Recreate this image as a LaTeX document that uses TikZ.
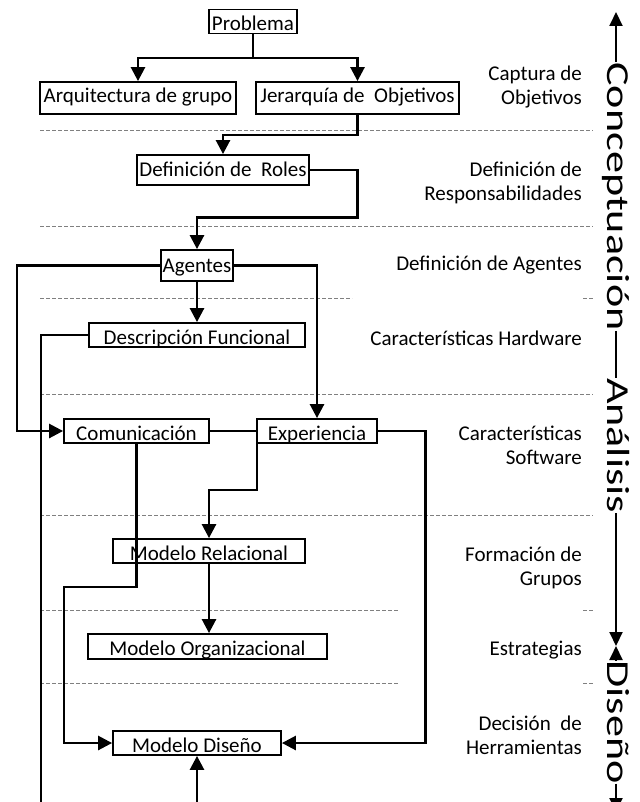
\documentclass[tikz,border=0pt]{standalone}
\usepackage{fontspec}
\setmainfont{Carlito}
\usetikzlibrary{arrows.meta}
\begin{document}
\begin{tikzpicture}[x=1pt,y=-1pt,
  conn/.style={line width=2.6pt},
  arr/.style={conn,-{Triangle[length=14pt,width=14pt]}},
  axis/.style={line width=2pt},
  axarr/.style={axis,-{Triangle[length=14pt,width=13pt]}},
  sep/.style={gray,line width=1pt,dash pattern=on 4pt off 2pt},
  txt/.style={font=\fontsize{21}{24}\selectfont},
  bx/.style={txt,draw,line width=1.8pt,inner sep=0pt},
  b5/.style={bx,text height=17pt,text depth=7pt},
  b7/.style={bx,text height=19pt,text depth=5pt},
  b9/.style={bx,text height=21pt,text depth=3pt},
  lab/.style={txt,anchor=east,align=right,inner sep=0pt},
  axl/.style={font=\fontsize{32}{34}\selectfont,rotate=-90,inner sep=0pt,text height=22pt,text depth=4pt}
]
\useasboundingbox (0,0) rectangle (639,802);
\clip (0,0) rectangle (639,802);

% separators
\draw[sep] (40,131) -- (593,131);
\draw[sep] (40,227) -- (593,227);
\draw[sep] (40,298) -- (352,298);
\draw[sep] (583,298) -- (593,298);
\draw[sep] (40,394) -- (593,394);
\draw[sep] (40,515) -- (593,515);
\draw[sep] (40,610) -- (398,610);
\draw[sep] (583,610) -- (593,610);
\draw[sep] (40,683) -- (398,683);
\draw[sep] (583,683) -- (593,683);

% boxes
\node[b9,minimum width=88pt,minimum height=23pt] (prob) at (253,21.5) {Problema};
\node[b5,minimum width=196pt,minimum height=32pt] (arq) at (138,98) {Arquitectura de grupo};
\node[b5,minimum width=203pt,minimum height=32pt] (jer) at (357.5,98) {Jerarquía de\ \ Objetivos};
\node[b7,minimum width=172pt,minimum height=30pt] (roles) at (223,170) {Definición de\ \ Roles};
\node[b7,minimum width=72pt,minimum height=31pt] (ag) at (197,265.5) {Agentes};
\node[b9,minimum width=216pt,minimum height=24pt] (desc) at (197,335) {Descripción Funcional};
\node[b9,minimum width=145pt,minimum height=24pt] (com) at (136.5,431) {Comunicación};
\node[b9,minimum width=120pt,minimum height=24pt] (exp) at (317,431) {Experiencia};
\node[b9,minimum width=192pt,minimum height=24pt] (rel) at (209,551) {Modelo Relacional};
\node[b9,minimum width=239pt,minimum height=25pt] (org) at (207.5,646.5) {Modelo Organizacional};
\node[b9,minimum width=168pt,minimum height=24pt] (dis) at (197,743) {Modelo Diseño};

% right labels
\node[lab] (l1) at (582,87) {Captura de\\Objetivos};
\node[lab] (l2) at (582,183) {Definición de\\Responsabilidades};
\node[lab] (l3) at (582,265) {Definición de Agentes};
\node[lab] (l4) at (582,338) {Características Hardware};
\node[lab] (l5) at (582,445) {Características\\Software};
\node[lab] (l6) at (582,568) {Formación de\\Grupos};
\node[lab] (l7) at (582,650) {Estrategias};
\node[lab] (l8) at (582,735) {Decisión\ \ de\\Herramientas};

% connectors
\coordinate (p1) at (253,58);
\draw[arr] (prob.south) -- (p1) -| (arq.north);
\draw[arr] (p1) -| (jer.north);
\draw[arr] (jer.south) -- ++(0,20) -| (roles.north);
\coordinate (c2) at (357.5,217.5);
\draw[arr] (roles.east) -| (c2) -| (ag.north);
\coordinate (c3) at (17,431);
\draw[arr] (ag.west) -| (c3) -- (com.west);
\draw[arr] (ag.east) -| (exp.north);
\draw[arr] (ag.south) -- (desc.north);
\coordinate (bl) at (41,803);
\coordinate (bm) at (197,803);
\draw[arr] (desc.west) -| (bl) -- (bm) -- (dis.south);
\draw[conn] (com.east) -- (exp.west);
\coordinate (c5) at (425.5,743);
\draw[arr] (exp.east) -| (c5) -- (dis.east);
\coordinate (c6) at (257,490);
\draw[arr] (c6 |- exp.south) -- (c6) -| (rel.north);
\coordinate (c7) at (136.5,587);
\coordinate (c8) at (64,743);
\draw[arr] (com.south) -- (c7) -| (c8) -- (dis.west);
\draw[arr] (rel.south) -- (rel.south |- org.north);

% phase axis
\node[axl] (conc) at (616,196.5) {\scalebox{1.38}[1]{Conceptuación}};
\node[axl] (ana) at (616,445.5) {\scalebox{1.38}[1]{Análisis}};
\node[axl] (dsn) at (616,722) {\scalebox{1.38}[1]{Diseño}};
\coordinate (atop) at (616,12);
\coordinate (amid) at (616,646);
\coordinate (abot) at (616,812);
\draw[axarr] (conc.west) -- (atop);
\draw[axis] (conc.east) -- (ana.west);
\draw[axarr] (ana.east) -- (amid);
\draw[axarr] (dsn.west) -- (amid);
\draw[axarr] (dsn.east) -- (abot);
\end{tikzpicture}
\end{document}
